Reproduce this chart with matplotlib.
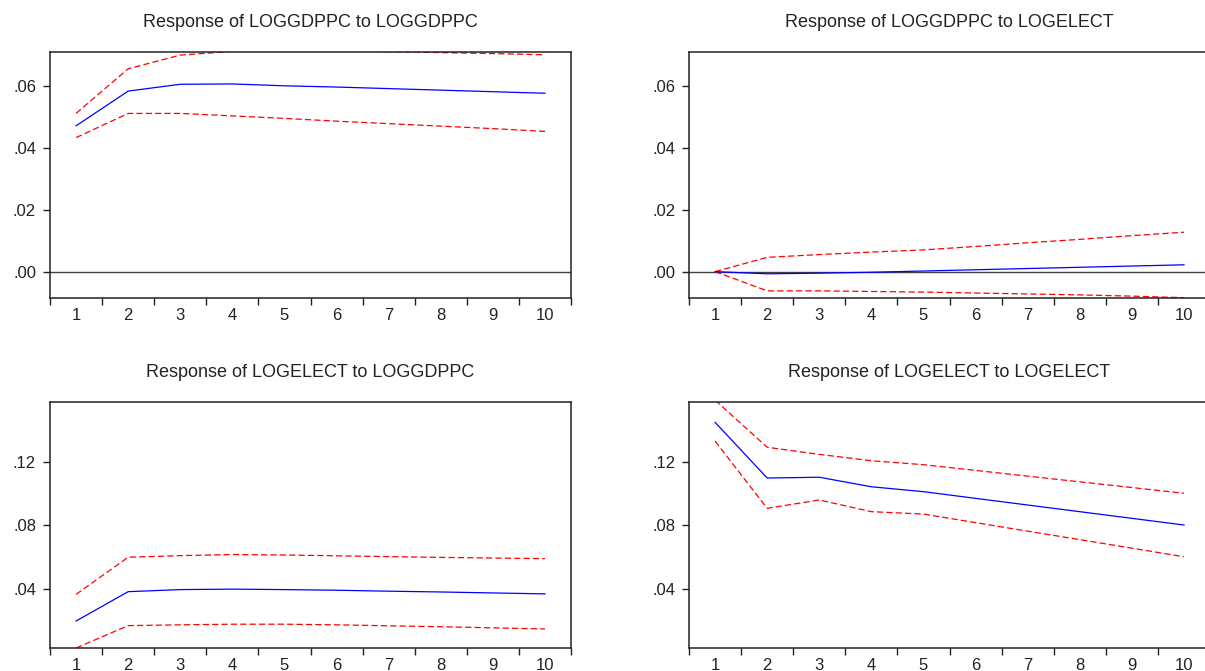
import numpy as np
import matplotlib

matplotlib.use("Agg")
import matplotlib.pyplot as plt
from matplotlib.ticker import FuncFormatter

plt.rcParams["font.family"] = ["Liberation Sans", "DejaVu Sans"]

# Impulse responses (periods 1..10): point estimate, upper and lower bands
periods = np.arange(1, 11)

gdp_gdp = [0.0470, 0.0582, 0.0604, 0.0605, 0.0599, 0.0595, 0.0590, 0.0585, 0.0580, 0.0575]
gdp_gdp_hi = [0.0510, 0.0654, 0.0698, 0.0710, 0.0712, 0.0711, 0.0709, 0.0706, 0.0703, 0.0699]
gdp_gdp_lo = [0.0432, 0.0510, 0.0510, 0.0502, 0.0494, 0.0485, 0.0477, 0.0469, 0.0461, 0.0452]

gdp_elec = [0.0000, -0.0007, -0.0005, -0.0002, 0.0002, 0.0006, 0.0010, 0.0014, 0.0018, 0.0022]
gdp_elec_hi = [0.0000, 0.0046, 0.0055, 0.0063, 0.0070, 0.0081, 0.0093, 0.0104, 0.0116, 0.0127]
gdp_elec_lo = [0.0000, -0.0062, -0.0062, -0.0064, -0.0066, -0.0069, -0.0072, -0.0075, -0.0079, -0.0084]

elec_gdp = [0.0198, 0.0383, 0.0396, 0.0399, 0.0396, 0.0392, 0.0386, 0.0381, 0.0375, 0.0369]
elec_gdp_hi = [0.0366, 0.0600, 0.0610, 0.0617, 0.0614, 0.0609, 0.0604, 0.0599, 0.0595, 0.0591]
elec_gdp_lo = [0.0028, 0.0169, 0.0174, 0.0178, 0.0178, 0.0174, 0.0168, 0.0162, 0.0155, 0.0148]

elec_elec = [0.1450, 0.1099, 0.1104, 0.1044, 0.1013, 0.0971, 0.0929, 0.0887, 0.0845, 0.0803]
elec_elec_hi = [0.1590, 0.1293, 0.1248, 0.1208, 0.1183, 0.1147, 0.1111, 0.1075, 0.1039, 0.1003]
elec_elec_lo = [0.1332, 0.0908, 0.0961, 0.0887, 0.0872, 0.0818, 0.0764, 0.0711, 0.0657, 0.0603]

titles = [
    "Response of LOGGDPPC to LOGGDPPC",
    "Response of LOGGDPPC to LOGELECT",
    "Response of LOGELECT to LOGGDPPC",
    "Response of LOGELECT to LOGELECT",
]

INK = "#222222"


def eviews_fmt(v, _pos):
    s = f"{v:.2f}"
    return s.replace("0.", ".", 1) if not s.startswith("-") else s


def draw_panel(ax, title, mid, hi, lo, ylim, yticks, zero_line):
    if zero_line:
        ax.axhline(0.0, color="#404040", lw=1.0, zorder=1)
    ax.plot(periods, hi, color="red", lw=0.9, ls=(0, (5, 2.5)), zorder=2)
    ax.plot(periods, lo, color="red", lw=0.9, ls=(0, (5, 2.5)), zorder=2)
    ax.plot(periods, mid, color="blue", lw=0.9, zorder=3)
    ax.set_xlim(0.5, 10.5)
    ax.set_ylim(*ylim)
    ax.set_yticks(yticks)
    ax.yaxis.set_major_formatter(FuncFormatter(eviews_fmt))
    # boundary ticks without labels, labels centred on periods
    ax.set_xticks(np.arange(0.5, 11.0, 1.0))
    ax.set_xticklabels([])
    ax.set_xticks(periods, minor=True)
    ax.set_xticklabels([str(p) for p in periods], minor=True)
    ax.tick_params(axis="x", which="major", direction="out", length=5, width=1, color=INK)
    ax.tick_params(axis="x", which="minor", length=0, pad=7, labelsize=12, labelcolor=INK)
    ax.tick_params(axis="y", direction="out", length=5, width=1, color=INK,
                   pad=5, labelsize=12, labelcolor=INK)
    for spine in ax.spines.values():
        spine.set_color(INK)
        spine.set_linewidth(1.1)
    ax.set_title(title, fontsize=13, color=INK, pad=18)


fig = plt.figure(figsize=(12.05, 6.71), dpi=100, facecolor="white")

W = 0.4324
H = 0.3666
ax1 = fig.add_axes([0.0415, 0.5559, W, H])
ax2 = fig.add_axes([0.5718, 0.5559, W, H])
ax3 = fig.add_axes([0.0415, 0.0338, W, H])
ax4 = fig.add_axes([0.5718, 0.0338, W, H])

top_lim = (-0.0085, 0.0708)
top_ticks = [0.00, 0.02, 0.04, 0.06]
bot_lim = (0.0026, 0.1576)
bot_ticks = [0.04, 0.08, 0.12]

draw_panel(ax1, titles[0], gdp_gdp, gdp_gdp_hi, gdp_gdp_lo, top_lim, top_ticks, True)
draw_panel(ax2, titles[1], gdp_elec, gdp_elec_hi, gdp_elec_lo, top_lim, top_ticks, True)
draw_panel(ax3, titles[2], elec_gdp, elec_gdp_hi, elec_gdp_lo, bot_lim, bot_ticks, False)
draw_panel(ax4, titles[3], elec_elec, elec_elec_hi, elec_elec_lo, bot_lim, bot_ticks, False)

fig.savefig("out.png", dpi=100, facecolor="white")
plt.close(fig)
